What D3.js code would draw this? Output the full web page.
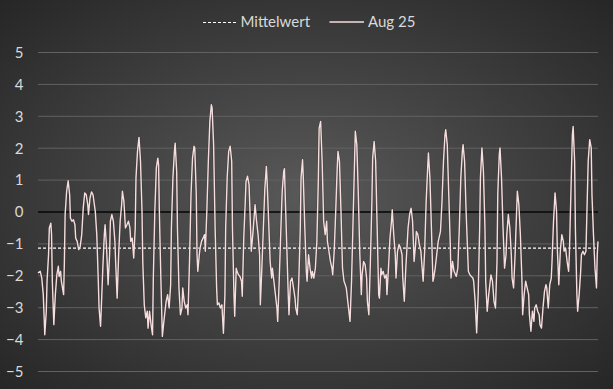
<!DOCTYPE html>
<html><head><meta charset="utf-8">
<script src="https://cdn.jsdelivr.net/npm/d3@7"></script>
<style>html,body{margin:0;padding:0;background:#2a2a2a;}svg{display:block;}</style>
</head><body>
<svg id="chart" width="613" height="389"></svg>
<script>
// Hours since 1 Aug 00:00
const hours = [0,3,5,7,9,11,12,14,15,17,18,19,21,23,25,27,28,30,31,34,35,36,38,40,42,43,45,47,49,50,52,54,56,58,60,62,64,66,67,69,71,73,76,78,80,81,83,84,86,88,89,91,93,95,96,98,100,102,103,105,107,109,111,112,114,116,118,120,122,123,125,127,129,130,132,134,136,138,139,141,143,145,146,148,150,152,153,155,157,159,160,161,163,165,167,168,170,172,174,176,177,179,181,182,184,185,187,189,191,192,194,196,198,199,201,203,205,207,208,210,211,212,214,215,217,219,221,222,224,226,228,230,231,233,235,237,238,240,242,244,246,248,249,251,253,255,257,258,260,261,263,264,266,268,270,271,273,275,276,278,280,282,283,285,287,288,290,292,294,295,297,299,301,303,304,306,308,310,311,313,315,317,318,320,322,324,326,327,328,330,332,333,335,337,339,341,342,344,346,348,349,351,352,354,356,357,359,361,363,364,366,368,370,372,373,375,377,379,381,383,384,386,388,390,391,393,395,397,398,400,402,404,406,407,409,411,413,414,416,418,420,421,423,425,427,429,430,432,434,436,437,439,441,443,444,446,448,450,452,453,455,456,458,460,462,463,465,467,469,470,472,474,475,477,479,481,483,484,486,488,490,491,493,495,497,499,501,502,504,506,508,509,511,513,515,517,518,520,522,524,525,527,529,531,532,534,536,538,540,541,543,545,547,548,550,552,554,555,557,559,561,563,564,566,568,570,571,573,575,577,578,580,582,584,586,587,589,591,593,594,596,598,600,601,603,605,607,609,610,612,613,615,617,619,621,622,624,626,628,629,631,633,635,636,638,640,642,643,645,647,649,651,652,654,656,658,659,661,663,665,666,668,670,672,674,675,677,679,681,682,684,686,688,689,691,693,695,697,698,700,702,704,705,707,709,710,712,713,715,716,718,720,721,723,725,727,728,730,732,734,735,737,739,741,742,743];
const values = [-1.91,-1.86,-2.07,-2.59,-3.85,-3.11,-2.17,-1.34,-0.50,-0.35,-0.71,-2.17,-3.53,-2.59,-1.97,-1.70,-2.02,-1.86,-2.17,-2.59,-1.55,-0.08,0.65,0.98,0.54,-0.19,-0.29,-0.24,-0.40,-0.82,-0.92,-1.18,-1.08,-0.71,0.12,0.60,0.54,0.23,-0.08,0.44,0.63,0.54,0.02,-0.71,-2.17,-3.01,-3.58,-3.01,-1.76,-0.71,-0.40,-1.13,-2.28,-1.34,-0.29,-0.08,-0.29,-0.92,-1.55,-2.70,-1.34,-0.29,0.23,0.65,0.33,-0.50,-0.40,-0.29,-0.50,-0.92,-0.82,-1.44,-0.50,1.07,1.90,2.34,1.59,0.02,-1.55,-2.91,-3.32,-3.11,-3.64,-3.11,-3.53,-3.85,-2.07,0.02,1.38,1.69,1.48,0.02,-2.07,-3.90,-3.43,-3.22,-2.80,-2.59,-3.01,-2.28,-0.50,1.07,1.90,2.16,1.27,-0.50,-2.38,-3.22,-3.01,-2.38,-2.80,-3.01,-2.91,-3.22,-1.55,0.54,1.69,2.06,2.01,0.54,-1.34,-1.86,-1.34,-1.13,-0.92,-0.82,-0.71,-1.23,0.02,1.59,2.84,3.36,3.26,2.11,-0.50,-2.38,-2.91,-2.85,-3.01,-2.91,-3.80,-2.59,-0.50,1.07,1.90,2.06,1.59,-0.50,-2.59,-3.27,-1.76,-1.86,-1.97,-2.02,-2.17,-2.64,-0.82,0.33,0.96,1.12,0.86,-0.50,-1.23,-0.71,-0.08,0.23,-0.29,-0.71,-1.34,-2.91,-1.76,-0.50,0.75,1.43,0.96,-0.29,-1.55,-2.07,-1.76,-2.17,-2.59,-3.01,-3.43,-2.17,-0.71,0.65,1.27,1.36,0.54,-1.02,-2.59,-3.22,-2.17,-2.07,-2.38,-2.70,-3.01,-3.22,-2.17,-0.50,1.07,1.64,1.07,-0.50,-1.86,-2.17,-1.34,-1.76,-2.07,-1.86,-2.07,-1.76,-0.92,1.07,2.63,2.84,1.59,-0.29,-0.71,-0.29,-0.92,-1.23,-1.55,-1.76,-1.97,-1.23,0.02,1.38,1.90,1.59,0.02,-1.76,-2.17,-2.23,-2.38,-2.80,-3.22,-3.43,-2.17,-0.29,1.59,2.53,2.11,0.54,-1.34,-2.59,-1.97,-1.55,-1.65,-2.07,-2.80,-3.22,-1.55,0.33,1.69,2.21,1.59,-0.50,-2.59,-2.70,-1.76,-1.97,-1.86,-2.07,-1.97,-2.59,-1.76,-0.82,-0.29,0.07,-0.71,-1.34,-2.07,-1.23,-1.02,-1.13,-1.34,-2.07,-2.80,-1.76,-0.92,-0.50,-0.08,0.12,-0.29,-1.55,-1.02,-0.61,-0.71,-1.02,-1.23,-1.55,-2.17,-1.23,0.33,1.38,1.85,1.07,-0.50,-2.17,-2.07,-1.76,-1.34,-0.92,-0.82,-0.61,0.33,1.59,2.42,2.58,2.11,0.54,-1.02,-2.07,-1.55,-1.86,-1.97,-2.02,-1.76,-0.50,1.07,1.90,2.11,1.59,0.02,-1.23,-1.86,-1.97,-2.02,-2.07,-2.17,-2.80,-3.79,-2.59,-0.50,1.07,2.01,1.27,-0.50,-2.17,-3.11,-2.59,-2.17,-1.97,-2.17,-2.80,-3.01,-1.55,0.54,1.80,2.01,1.07,-0.50,-1.76,-1.34,-0.71,-0.08,-0.50,-1.34,-2.07,-2.38,-1.34,0.02,0.65,0.23,-0.71,-2.07,-3.22,-2.59,-2.17,-2.38,-2.59,-3.22,-3.74,-3.11,-3.43,-3.01,-2.91,-3.11,-3.22,-3.53,-3.64,-3.01,-2.49,-2.28,-2.38,-3.01,-2.28,-2.07,-1.55,-0.29,0.60,0.02,-1.13,-2.28,-1.23,-0.71,-0.92,-1.23,-1.13,-1.55,-1.86,-1.34,0.54,2.42,2.68,1.59,-0.50,-2.59,-3.11,-2.59,-1.86,-1.34,-1.23,-1.34,-1.23,-0.29,1.59,2.27,2.01,0.54,-0.71,-1.76,-2.38,-1.34,-0.92];
const meanValue = -1.13;
const yTicks = [5,4,3,2,1,0,-1,-2,-3,-4,-5];
const seriesNames = ["Mittelwert", "Aug 25"];

const W = 613, H = 389;
const FONT = "Lato, 'Open Sans', sans-serif";
const svg = d3.select("#chart");
const defs = svg.append("defs");
const rg = defs.append("radialGradient").attr("id","bg")
  .attr("cx","50%").attr("cy","50%").attr("r","75%");
rg.append("stop").attr("offset","0%").attr("stop-color","#595959");
rg.append("stop").attr("offset","100%").attr("stop-color","#232323");
svg.append("rect").attr("width",W).attr("height",H).attr("fill","url(#bg)");

const x = d3.scaleLinear().domain([0, 743]).range([38, 598]);
const y = d3.scaleLinear().domain([-5, 5]).range([371.5, 52.5]);

// gridlines
svg.append("g").selectAll("line").data(yTicks).join("line")
  .attr("x1", 38).attr("x2", 598)
  .attr("y1", d => y(d)).attr("y2", d => y(d))
  .attr("stroke", "#626262").attr("stroke-width", 1);

// y axis labels
const yAxis = d3.axisLeft(y).tickValues(yTicks).tickSize(0).tickPadding(0).tickFormat(d3.format("d"));
const ga = svg.append("g").attr("transform","translate(23.5,0)").call(yAxis);
ga.select(".domain").remove();
ga.selectAll("text").attr("fill","#d9d9d9").style("font-family",FONT).style("font-size","15px");

// zero line
svg.append("line").attr("x1",38).attr("x2",598).attr("y1",y(0)).attr("y2",y(0))
  .attr("stroke","#000").attr("stroke-width",1.5);

// mean line
svg.append("line").attr("x1",38).attr("x2",598).attr("y1",y(meanValue)).attr("y2",y(meanValue))
  .attr("stroke","#ffffff").attr("stroke-width",1.2).attr("stroke-dasharray","3,2");

// series
const pts = hours.map((h,i)=>[h, values[i]]);
const line = d3.line().x(d=>x(d[0])).y(d=>y(d[1]));
svg.append("path").datum(pts).attr("d",line).attr("fill","none")
  .attr("stroke","#3a2f2f").attr("stroke-width",2.6).attr("stroke-opacity",0.35).attr("stroke-linejoin","round");
svg.append("path").datum(pts).attr("d",line).attr("fill","none")
  .attr("stroke","#f6dede").attr("stroke-width",1.4).attr("stroke-linejoin","round");

// legend
const lg = svg.append("g").style("font-family",FONT).style("font-size","15px");
lg.append("line").attr("x1",203).attr("x2",236).attr("y1",22.5).attr("y2",22.5)
  .attr("stroke","#fff").attr("stroke-width",1.2).attr("stroke-dasharray","3,2");
lg.append("text").attr("x",240.5).attr("y",27).attr("fill","#d9d9d9").text(seriesNames[0]);
lg.append("line").attr("x1",329.5).attr("x2",364).attr("y1",22).attr("y2",22)
  .attr("stroke","#f6dede").attr("stroke-width",1.4);
lg.append("text").attr("x",368).attr("y",27).attr("fill","#d9d9d9").text(seriesNames[1]);
</script>
</body></html>
